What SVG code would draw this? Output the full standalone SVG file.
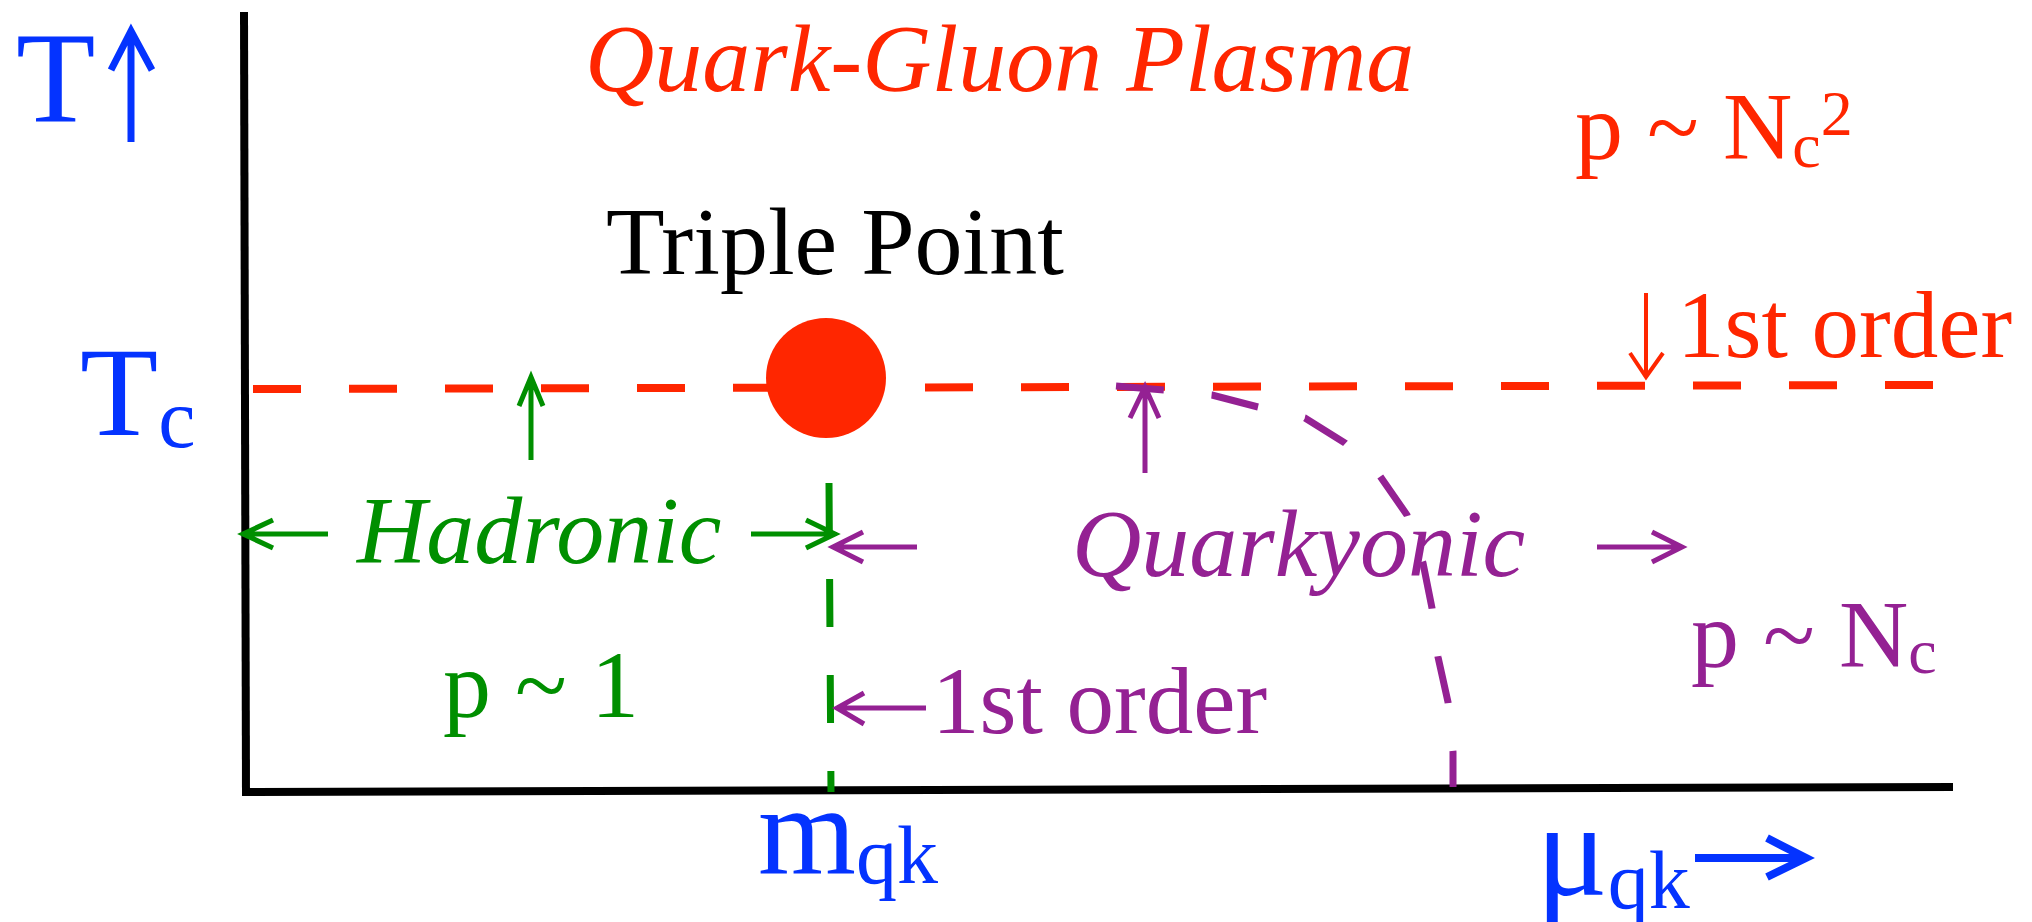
<svg xmlns="http://www.w3.org/2000/svg" width="2032" height="922" viewBox="0 0 2032 922">
<style>
text{font-family:"Liberation Serif","Times New Roman",serif;}
.it{font-style:italic;}
.blue{fill:#0433ff;}
.red{fill:#ff2600;}
.green{fill:#008f00;}
.purple{fill:#942193;}
.ax{stroke:#000;stroke-width:8;fill:none;}
.arr{fill:none;stroke-linecap:butt;stroke-linejoin:miter;}
.sb{stroke:#0433ff;}
.sr{stroke:#ff2600;}
.sg{stroke:#008f00;}
.sp{stroke:#942193;}
</style>
<rect width="2032" height="922" fill="#fff"/>
<g id="axes">
<line class="ax" x1="244" y1="12" x2="246" y2="796"/>
<line class="ax" x1="242" y1="792" x2="1953" y2="787"/>
</g>
<g id="boundaries">
<line x1="253" y1="389" x2="1933" y2="385" stroke="#ff2600" stroke-width="8" stroke-dasharray="48 48"/>
<line x1="829" y1="483" x2="831" y2="792" stroke="#008f00" stroke-width="7" stroke-dasharray="48 48"/>
<polyline points="1116,386 1164,390 1212,395 1258,407 1305,418 1345,443 1380,476 1407,515 1423,563 1432,608 1438,657 1448,702 1453,752 1453,787" fill="none" stroke="#942193" stroke-width="7" stroke-dasharray="48 48"/>
</g>
<g id="triple-point">
<circle cx="826" cy="378" r="60" fill="#ff2600"/>
<text x="606" y="274" font-size="96" fill="#000">Triple Point</text>
</g>
<g id="connectors">
<path class="arr sb" stroke-width="7" d="M131 142 L131 33 M111 70 L131 31 L152 70"/>
<path class="arr sr" stroke-width="4" d="M1646 293 L1646 375 M1630 353 L1646 377 L1663 353"/>
<path class="arr sg" stroke-width="5" d="M531 460 L531 379 M519 406 L531 377 L543 406"/>
<path class="arr sg" stroke-width="5" d="M328 534 L245 534 M273 520 L243 534 L273 548"/>
<path class="arr sg" stroke-width="5" d="M751 534 L833 534 M806 520 L835 534 L806 548"/>
<path class="arr sp" stroke-width="5" d="M917 547 L835 547 M863 532 L833 547 L863 562"/>
<path class="arr sp" stroke-width="5" d="M1145 473 L1145 389 M1130 418 L1145 387 L1159 418"/>
<path class="arr sp" stroke-width="5" d="M1597 547 L1680 547 M1652 532 L1682 547 L1652 562"/>
<path class="arr sp" stroke-width="5" d="M926 708 L839 708 M864 693 L837 708 L864 724"/>
<path class="arr sb" stroke-width="8" d="M1695 858 L1802 858 M1767 838 L1806 858 L1767 877"/>
</g>
<g id="axis-labels">
<text class="blue" x="16" y="121" font-size="130">T</text>
<text class="blue" x="80" y="435" font-size="128">T<tspan font-size="84" dy="12">c</tspan></text>
<text class="blue" x="758" y="873" font-size="126">m<tspan font-size="82" dy="10">qk</tspan></text>
<text class="blue" x="1536" y="895" font-size="134">μ<tspan font-size="82" dy="13">qk</tspan></text>
</g>
<g id="qgp">
<text class="red it" x="585" y="91" font-size="96">Quark-Gluon Plasma</text>
<text class="red" x="1575" y="159" font-size="96">p ~ N<tspan font-size="64" dy="8">c</tspan><tspan font-size="64" dy="-32">2</tspan></text>
<text class="red" x="1677" y="357" font-size="95">1st order</text>
</g>
<g id="hadronic">
<text class="green it" x="357" y="563" font-size="96">Hadronic</text>
<text class="green" x="443" y="717" font-size="96">p ~ 1</text>
</g>
<g id="quarkyonic">
<text class="purple it" x="1072" y="576" font-size="96">Quarkyonic</text>
<text class="purple" x="1691" y="667" font-size="96">p ~ N<tspan font-size="64" dy="6">c</tspan></text>
<text class="purple" x="932" y="733" font-size="95">1st order</text>
</g>
</svg>
